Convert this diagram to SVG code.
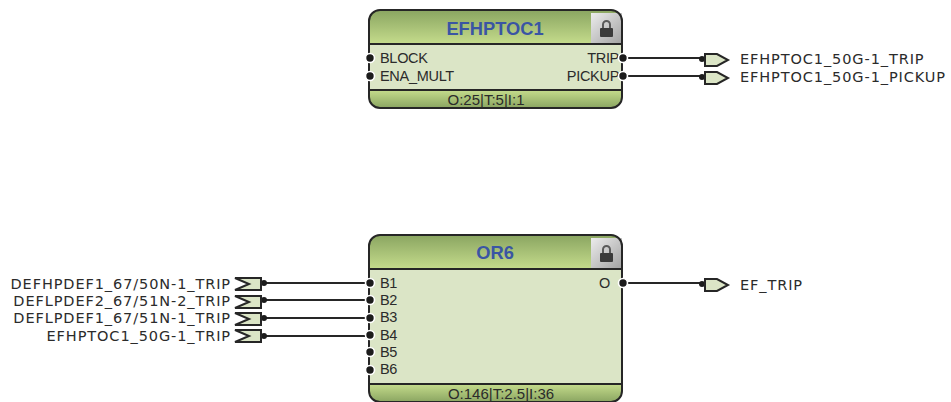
<svg xmlns="http://www.w3.org/2000/svg" width="951" height="402" viewBox="0 0 951 402">
<style>
text{font-family:"Liberation Sans",Arial,sans-serif;fill:#2b2b2b}
.p{font-size:14.500px;letter-spacing:-.3px}
.s{font-family:"DejaVu Sans",Verdana,sans-serif;font-size:14.500px;letter-spacing:.9px}
.t{font-size:18.300px;font-weight:bold;fill:#3a55a4;text-anchor:middle}
.f{font-size:15px;text-anchor:middle}
.e{text-anchor:end}
.o{fill:none;stroke:#262626;stroke-width:2}
.w{stroke:#262626;stroke-width:2;fill:none}
.dot{fill:#1c1c1c;stroke:#fff;stroke-width:1.600}
.d{fill:#1c1c1c}
.c{fill:none;stroke:#262626;stroke-width:2}
.tag{fill:#dbe5c6;stroke:#262626;stroke-width:2}
</style>
<defs>
<linearGradient id="h" x1="0" y1="0" x2="0" y2="1"><stop offset="0" stop-color="#8aa561"/><stop offset="1" stop-color="#c5dc8c"/></linearGradient>
<linearGradient id="b" x1="0" y1="0" x2="0" y2="1"><stop offset="0" stop-color="#c5dc8c"/><stop offset="1" stop-color="#8aa561"/></linearGradient>
<linearGradient id="l" x1="0" y1="0" x2="1" y2="1"><stop offset="0" stop-color="#ececec"/><stop offset="1" stop-color="#a2a2a2"/></linearGradient>
<g id="lock"><rect x="0" y="0" width="31" height="30" fill="url(#l)"/><path d="M12 15v-3.500a3.500 3.500 0 0 1 7 0v3.500" fill="none" stroke="#5a5a5a" stroke-width="2"/><rect x="9" y="15" width="13" height="9" rx="1" fill="#3a3a3a"/></g>
<path id="ot" d="M0-6H12L23 0 12 6H0Z"/>
<path id="it" d="M0-6H26V6H0L14 0Z"/>
</defs>
<g id="connectors">
<path class="c" d="M623 58H702M623 76H702M623 283H702M264 283H370M264 300H370M264 318H370M264 336H370"/>
<circle class="d" cx="702" cy="59" r="3"/><circle class="d" cx="702" cy="77" r="3"/><circle class="d" cx="702" cy="284" r="3"/>
<circle class="d" cx="264" cy="283" r="3"/><circle class="d" cx="264" cy="300" r="3"/><circle class="d" cx="264" cy="318" r="3"/><circle class="d" cx="264" cy="336" r="3"/>
</g>
<g id="EFHPTOC1">
<rect x="369" y="10" width="253" height="98" rx="11" fill="#dbe5c6"/>
<path d="M369 44V21a11 11 0 0 1 11-11H611a11 11 0 0 1 11 11V44Z" fill="url(#h)"/>
<path d="M369 90V97a11 11 0 0 0 11 11H611a11 11 0 0 0 11-11V90Z" fill="url(#b)"/>
<use href="#lock" x="591" y="13"/>
<rect class="o" x="369" y="10" width="253" height="98" rx="11"/>
<path class="w" d="M369 44H622M369 90H622"/>
<text class="t" x="495" y="35">EFHPTOC1</text>
<text class="p" x="380" y="63">BLOCK</text><text class="p" x="380" y="81">ENA_MULT</text>
<text class="p e" x="619" y="63">TRIP</text><text class="p e" x="619" y="81">PICKUP</text>
<text class="f" x="486" y="105">O:25|T:5|I:1</text>
<circle class="dot" cx="370" cy="58" r="4.500"/><circle class="dot" cx="370" cy="76" r="4.500"/>
<circle class="dot" cx="623" cy="58" r="4.500"/><circle class="dot" cx="623" cy="76" r="4.500"/>
</g>
<g id="OR6">
<rect x="369" y="235" width="253" height="167" rx="11" fill="#dbe5c6"/>
<path d="M369 269V246a11 11 0 0 1 11-11H611a11 11 0 0 1 11 11V269Z" fill="url(#h)"/>
<path d="M369 384V391a11 11 0 0 0 11 11H611a11 11 0 0 0 11-11V384Z" fill="url(#b)"/>
<use href="#lock" x="591" y="238"/>
<rect class="o" x="369" y="235" width="253" height="167" rx="11"/>
<path class="w" d="M369 269H622M369 384H622"/>
<text class="t" x="495" y="259">OR6</text>
<text class="p" x="380" y="288">B1</text><text class="p" x="380" y="305">B2</text><text class="p" x="380" y="322">B3</text><text class="p" x="380" y="340">B4</text><text class="p" x="380" y="357">B5</text><text class="p" x="380" y="374">B6</text>
<text class="p" x="599" y="288">O</text>
<text class="f" x="501" y="399">O:146|T:2.5|I:36</text>
<circle class="dot" cx="370" cy="283" r="4.500"/><circle class="dot" cx="370" cy="300" r="4.500"/><circle class="dot" cx="370" cy="318" r="4.500"/><circle class="dot" cx="370" cy="335" r="4.500"/><circle class="dot" cx="370" cy="352" r="4.500"/><circle class="dot" cx="370" cy="370" r="4.500"/>
<circle class="dot" cx="623" cy="283" r="4.500"/>
</g>
<g id="out-trip"><use href="#ot" class="tag" x="705" y="60"/><text class="s" x="740" y="64">EFHPTOC1_50G-1_TRIP</text></g>
<g id="out-pickup"><use href="#ot" class="tag" x="705" y="78"/><text class="s" x="740" y="82">EFHPTOC1_50G-1_PICKUP</text></g>
<g id="out-ef"><use href="#ot" class="tag" x="705" y="285"/><text class="s" x="740" y="290">EF_TRIP</text></g>
<g id="in-1"><use href="#it" class="tag" x="235" y="284"/><text class="s e" x="231" y="289">DEFHPDEF1_67/50N-1_TRIP</text></g>
<g id="in-2"><use href="#it" class="tag" x="235" y="302"/><text class="s e" x="231" y="306">DEFLPDEF2_67/51N-2_TRIP</text></g>
<g id="in-3"><use href="#it" class="tag" x="235" y="319"/><text class="s e" x="231" y="323">DEFLPDEF1_67/51N-1_TRIP</text></g>
<g id="in-4"><use href="#it" class="tag" x="235" y="336"/><text class="s e" x="231" y="341">EFHPTOC1_50G-1_TRIP</text></g>
</svg>
